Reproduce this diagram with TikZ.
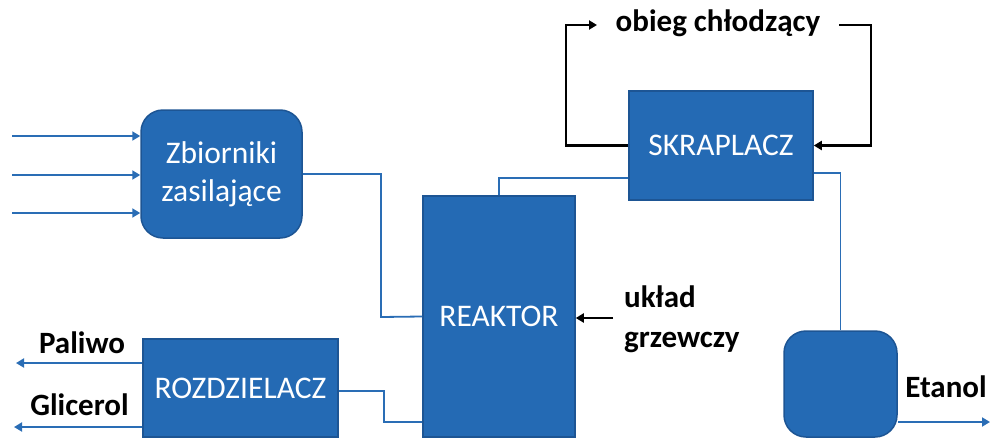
\documentclass[tikz,border=0pt]{standalone}
\usepackage{fontspec}
\setmainfont{Carlito}
\usetikzlibrary{arrows.meta}
\definecolor{boxfill}{HTML}{246AB4}
\definecolor{boxedge}{HTML}{1D5594}
\definecolor{linecol}{HTML}{2A6DB5}
\tikzset{
  box/.style={draw=boxedge, line width=1.5pt, fill=boxfill, text=white, align=center, inner sep=0pt,
    font=\fontsize{31.5}{38}\selectfont},
  bl/.style={draw=linecol, line width=1.8pt},
  blarrow/.style={bl, -{Triangle[length=8pt,width=9pt]}},
  bk/.style={draw=black, line width=2.2pt},
  bkarrow/.style={bk, -{Triangle[length=8pt,width=9pt]}},
  lab/.style={font=\fontsize{31}{40}\selectfont\bfseries, text=black, inner sep=0pt, align=left}
}
\begin{document}
\begin{tikzpicture}[x=1pt,y=-1pt]
\useasboundingbox (0,0) rectangle (990,439);
% boxes
\node[box, minimum width=161pt, minimum height=128pt, rounded corners=22pt] (zb) at (221.5,174) {Zbiorniki\\zasilające};
\node[box, minimum width=152pt, minimum height=241pt] (reaktor) at (499,316.5) {REAKTOR};
\node[box, minimum width=195pt, minimum height=98pt] (rozdz) at (240.5,388) {ROZDZIELACZ};
\node[box, minimum width=184pt, minimum height=109pt] (skr) at (721,145.5) {SKRAPLACZ};
\node[box, minimum width=113pt, minimum height=106pt, rounded corners=22pt] (zbE) at (840.5,384) {};
% inputs
\coordinate (in1) at (12,136);
\coordinate (in2) at (12,175);
\coordinate (in3) at (12,213);
\draw[blarrow] (in1) -- (in1 -| zb.west);
\draw[blarrow] (in2) -- (in2 -| zb.west);
\draw[blarrow] (in3) -- (in3 -| zb.west);
% zbiorniki -> reaktor
\draw[bl] (zb.east) -| (381,317) -- (reaktor.west);
% reaktor -> rozdzielacz
\draw[bl] (reaktor.west |- 0,422) -| (384,391) -- (rozdz.east |- 0,391);
% reaktor -> skraplacz
\draw[bl] (reaktor.north) |- (skr.west |- 0,178);
% skraplacz -> etanol box
\draw[bl] (skr.east |- 0,173) -| (zbE.north);
% outputs
\coordinate (pal) at (16,363);
\coordinate (gli) at (14,427);
\coordinate (eta) at (990,422);
\draw[blarrow] (rozdz.west |- pal) -- (pal);
\draw[blarrow] (rozdz.west |- gli) -- (gli);
\draw[blarrow] (zbE.east |- eta) -- (eta);
% cooling loop
\node[lab] (obieg) at (718,23) {obieg chłodzący};
\coordinate (ob1) at (597,25);
\coordinate (ob2) at (839,25);
\draw[bkarrow] (skr.west) -| (566,25) -- (ob1);
\draw[bkarrow] (ob2) -| (871,145.5) -- (skr.east);
% heating
\node[lab, anchor=west] (uklad) at (624,319) {układ\\grzewczy};
\coordinate (hz) at (613,318);
\draw[bkarrow] (hz) -- (reaktor.east |- hz);
% labels
\node[lab] (lpal) at (82,343) {Paliwo};
\node[lab] (lgli) at (79.5,405) {Glicerol};
\node[lab] (leta) at (946,387) {Etanol};
\end{tikzpicture}
\end{document}
